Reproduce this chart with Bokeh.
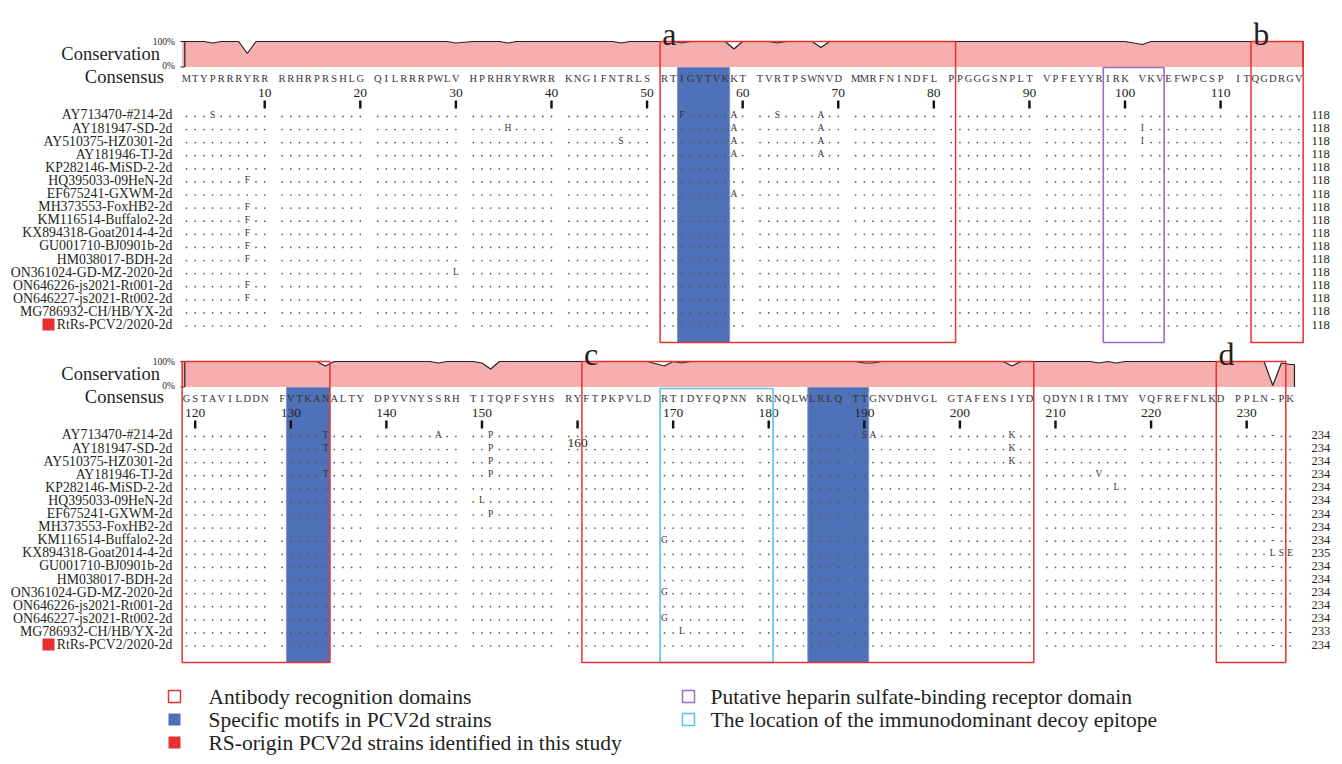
from bokeh.plotting import figure
from bokeh.models import Range1d
from bokeh.core.properties import value
from bokeh.embed import file_html
from bokeh.resources import INLINE

# ---------------- data ----------------
NAMES = ["AY713470-#214-2d", "AY181947-SD-2d", "AY510375-HZ0301-2d", "AY181946-TJ-2d",
         "KP282146-MiSD-2-2d", "HQ395033-09HeN-2d", "EF675241-GXWM-2d", "MH373553-FoxHB2-2d",
         "KM116514-Buffalo2-2d", "KX894318-Goat2014-4-2d", "GU001710-BJ0901b-2d", "HM038017-BDH-2d",
         "ON361024-GD-MZ-2020-2d", "ON646226-js2021-Rt001-2d", "ON646227-js2021-Rt002-2d",
         "MG786932-CH/HB/YX-2d", "RtRs-PCV2/2020-2d"]
HIGHLIGHT_ROW = 16

CONS_TOP = ("MTYPRRRYRR" "RRHRPRSHLG" "QILRRRPWLV" "HPRHRYRWRR" "KNGIFNTRLS" "RTIGYTVKKT"
            "TVRTPSWNVD" "MMRFNINDFL" "PPGGGSNPLT" "VPFEYYRIRK" "VKVEFWPCSP" "ITQGDRGV")
CONS_BOT = ("GSTAVILDDN" "FVTKANALTY" "DPYVNYSSRH" "TITQPFSYHS" "RYFTPKPVLD" "RTIDYFQPNN"
            "KRNQLWLRLQ" "TTGNVDHVGL" "GTAFENSIYD" "QDYNIRITMY" "VQFREFNLKD" "PPLN-PK")
START_TOP = 1
START_BOT = 119

# substitutions: row index, alignment column, residue
VAR_ROW = [0, 0, 0, 0, 0, 1, 1, 1, 1, 2, 2, 2, 2, 3, 3, 5, 6, 7, 8, 9, 10, 11, 12, 13, 14,
           0, 0, 0, 0, 0, 0, 1, 1, 1, 2, 2, 3, 3, 3, 4, 5, 6, 8, 9, 9, 9, 12, 14, 15, 15]
VAR_POS = [4, 53, 59, 63, 68, 35, 59, 68, 101, 47, 59, 68, 101, 59, 68, 8, 59, 8, 8, 8, 8, 8, 30, 8, 8,
           134, 146, 151, 190, 191, 206, 134, 151, 206, 151, 206, 134, 151, 215, 217, 150, 151, 169,
           233, 234, 235, 169, 169, 171, 235]
VAR_AA = ["S", "F", "A", "S", "A", "H", "A", "A", "I", "S", "A", "A", "I", "A", "A", "F", "A", "F", "F",
          "F", "F", "F", "L", "F", "F",
          "T", "A", "P", "S", "A", "K", "T", "P", "K", "P", "K", "T", "P", "V", "L", "L", "P", "G",
          "L", "S", "E", "G", "G", "L", "-"]

AB_DOMAINS = [("a", 51, 81), ("b", 113, 134), ("c", 161, 208), ("d", 228, 234)]
MOTIFS = [(53, 58), (130, 134), (185, 190)]
HEPARIN = [(98, 103)]
DECOY = [(169, 180)]

LEGEND_TEXT = ["Antibody recognition domains", "Specific motifs in PCV2d strains",
               "RS-origin PCV2d strains identified in this study",
               "Putative heparin sulfate-binding receptor domain",
               "The location of the immunodominant decoy epitope"]

# ---------------- styles ----------------
PINK = "#F7AEAE"
RED = "#E8302E"
BLUE = "#4F71B8"
PURPLE = "#9C6CC2"
CYAN = "#52C4EE"
SERIF = value("Liberation Serif")
TXT = "#231F20"

X0, DX = 186.0, 8.69
W, H = 1334, 756
N = len(NAMES)


def sx(px):
    return (px - X0) / DX


p = figure(width=W, height=H, x_range=Range1d(sx(0), sx(W)), y_range=Range1d(H, 0),
           output_backend="svg", toolbar_location=None, min_border=0,
           x_axis_location=None, y_axis_location=None)
p.grid.visible = False
p.outline_line_color = None
p.background_fill_color = "white"

blocks = [(CONS_TOP, START_TOP, 0.0), (CONS_BOT, START_BOT, 320.0)]
Y100, Y0 = 41.0, 66.5
CONS_Y, TICKLAB_Y, TICK_A, TICK_B = 76.5, 92.5, 100.0, 108.0
ROW0, ROW_H = 114.4, 13.1
BOX_BOT = 342.0
INNER_TOP = 67.0

# build sequences
seqs = []
for r in range(N):
    s = {}
    for cons, st, _ in blocks:
        for i, c in enumerate(cons):
            s[st + i] = c
    seqs.append(s)
for r, pos, aa in zip(VAR_ROW, VAR_POS, VAR_AA):
    seqs[r][pos] = aa


def slot(pos, st):
    k = pos - st
    return k + k // 10


def block_of(pos):
    return 0 if pos < START_BOT else 1


running = [0] * N
for bi, (cons, st, off) in enumerate(blocks):
    n = len(cons)
    cols = list(range(st, st + n))
    slots = [slot(c, st) for c in cols]
    # specific motif boxes (under everything)
    for a, b in MOTIFS:
        if block_of(a) == bi:
            p.quad(left=[slot(a, st) - 0.5], right=[slot(b, st) + 0.5], top=[INNER_TOP + off],
                   bottom=[BOX_BOT + off], fill_color=BLUE, line_color="#7A95CF", line_width=1)
    # conservation
    cvals = []
    for c in cols:
        counts = {}
        for r in range(N):
            ch = seqs[r][c]
            if ch != "-":
                counts[ch] = counts.get(ch, 0) + 1
        cvals.append(max(counts.values()) / N if counts else 0)
    xs = [slots[0] - 0.5] + slots + [slots[-1] + 0.5]
    cv = [cvals[0]] + cvals + [cvals[-1]]
    ys = [Y0 + off - v * (Y0 - Y100) for v in cv]
    p.varea(x=xs, y1=[Y0 + off] * len(xs), y2=ys, fill_color=PINK)
    p.line(xs, ys, line_color="#222222", line_width=1.2)
    p.segment(x0=[xs[-1]], y0=[ys[-1]], x1=[xs[-1]], y1=[Y0 + off], line_color="#222222", line_width=1.2)
    # axis of conservation
    ax = sx(184.3)
    p.segment(x0=[ax], y0=[Y100 + off], x1=[ax], y1=[Y0 + off], line_color="#222222", line_width=1.2)
    p.segment(x0=[sx(180), sx(180)], y0=[Y100 + off, Y0 + off], x1=[ax, ax], y1=[Y100 + off, Y0 + off],
              line_color="#222222", line_width=1)
    p.text(x=[sx(174.5), sx(174.5)], y=[Y100 + off, Y0 + off - 1.5], text=["100%", "0%"], text_font=SERIF,
           text_font_size="9.5px", text_align="right", text_baseline="middle", text_color=TXT)
    p.text(x=[sx(159.5)], y=[53 + off], text=["Conservation"], text_font=SERIF, text_font_size="18.5px",
           text_align="right", text_baseline="middle", text_color=TXT)
    p.text(x=[sx(163.5)], y=[CONS_Y + off], text=["Consensus"], text_font=SERIF, text_font_size="18.5px",
           text_align="right", text_baseline="middle", text_color=TXT)
    # consensus letters
    p.text(x=slots, y=[CONS_Y + off + 1] * n, text=list(cons), text_font=SERIF, text_font_size="10.5px",
           text_align="center", text_baseline="middle", text_color="#333333")
    # ticks
    tcols = [c for c in cols if c % 10 == 0]
    tx = [slot(c, st) for c in tcols]
    p.quad(left=[t - 0.14 for t in tx], right=[t + 0.14 for t in tx], top=[TICK_A + off] * len(tx),
           bottom=[TICK_B + off] * len(tx), fill_color="#111111", line_color=None)
    ty = [TICKLAB_Y + off + (30.0 if c == 160 else 0.0) for c in tcols]
    p.text(x=tx, y=ty, text=[str(c) for c in tcols], text_font=SERIF, text_font_size="13.5px",
           text_align="center", text_baseline="middle", text_color=TXT)
    # rows
    dx, dy, lx, ly, lt = [], [], [], [], []
    for r in range(N):
        yr = ROW0 + off + r * ROW_H
        for c, s_ in zip(cols, slots):
            ch = seqs[r][c]
            if ch == "-":
                lx.append(s_); ly.append(yr); lt.append("-")
            elif ch == cons[c - st]:
                dx.append(s_); dy.append(yr + 1.5)
            else:
                lx.append(s_); ly.append(yr); lt.append(ch)
            if ch != "-":
                running[r] += 1
    p.scatter(x=dx, y=dy, size=1.7, color="#555555", line_color=None)
    p.text(x=lx, y=ly, text=lt, text_font=SERIF, text_font_size="9.5px", text_align="center",
           text_baseline="middle", text_color="#333333")
    ry = [ROW0 + off + r * ROW_H for r in range(N)]
    p.text(x=[sx(172)] * N, y=ry, text=NAMES, text_font=SERIF, text_font_size="13.8px", text_align="right",
           text_baseline="middle", text_color=TXT)
    p.text(x=[sx(1311)] * N, y=ry, text=[str(v) for v in running], text_font=SERIF, text_font_size="12.5px",
           text_align="left", text_baseline="middle", text_color=TXT)
    hy = ROW0 + off + HIGHLIGHT_ROW * ROW_H
    p.quad(left=[sx(42)], right=[sx(54)], top=[hy - 6], bottom=[hy + 6], fill_color=RED, line_color=None)
    # heparin & decoy boxes
    for a, b in HEPARIN:
        if block_of(a) == bi:
            p.quad(left=[slot(a, st) - 0.5], right=[slot(b, st) + 0.5], top=[INNER_TOP + off],
                   bottom=[BOX_BOT + off], fill_color=None, line_color=PURPLE, line_width=1.6)
    for a, b in DECOY:
        if block_of(a) == bi:
            p.quad(left=[slot(a, st) - 0.5], right=[slot(b, st) + 0.5], top=[INNER_TOP + 1 + off],
                   bottom=[BOX_BOT + off], fill_color=None, line_color=CYAN, line_width=1.6)
    # antibody recognition domains
    for lab, a, b in AB_DOMAINS:
        end = st + n - 1
        lo, hi = max(a, st), min(b, end)
        if lo > hi:
            continue
        l, rgt = slot(lo, st) - 0.5, slot(hi, st) + 0.5
        p.quad(left=[l], right=[rgt], top=[Y100 + off], bottom=[BOX_BOT + off], fill_color=None,
               line_color=RED, line_width=1.5)
        if lo == a:
            p.text(x=[l + 0.25], y=[Y100 + off - 8], text=[lab], text_font=SERIF, text_font_size="32px",
                   text_align="left", text_baseline="alphabetic", text_color=TXT)

# legend
LX = [[168, 208], [168, 208], [168, 208], [682, 710], [682, 710]]
LY = [696, 719, 742, 696, 719]
fills = [None, BLUE, RED, None, None]
lines = [RED, None, None, PURPLE, CYAN]
for (qx, tx_), y, f, lc, t in zip(LX, LY, fills, lines, LEGEND_TEXT):
    p.quad(left=[sx(qx)], right=[sx(qx + 12)], top=[y - 6], bottom=[y + 6], fill_color=f,
           line_color=lc, line_width=1.5 if lc else 0)
    p.text(x=[sx(tx_)], y=[y], text=[t], text_font=SERIF, text_font_size="21.5px", text_align="left",
           text_baseline="middle", text_color=TXT)

open("out.html", "w").write(file_html(p, INLINE))
